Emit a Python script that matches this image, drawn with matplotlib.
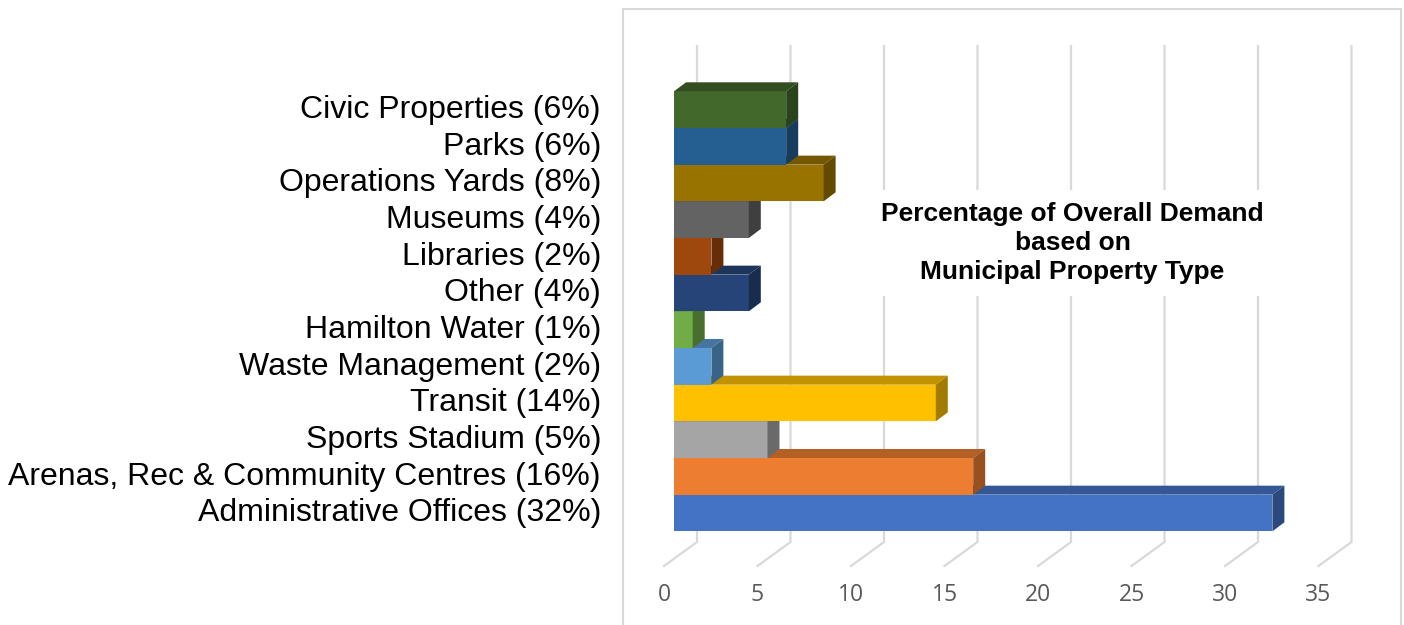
import matplotlib
matplotlib.use("Agg")
import matplotlib.pyplot as plt
from matplotlib.patches import Polygon, Rectangle
from matplotlib.transforms import ScaledTranslation
import matplotlib.colors as mcolors

# ---------------- data ----------------
categories = [
    "Administrative Offices (32%)",
    "Arenas, Rec & Community Centres (16%)",
    "Sports Stadium (5%)",
    "Transit (14%)",
    "Waste Management (2%)",
    "Hamilton Water (1%)",
    "Other (4%)",
    "Libraries (2%)",
    "Museums (4%)",
    "Operations Yards (8%)",
    "Parks (6%)",
    "Civic Properties (6%)",
]
values = [32, 16, 5, 14, 2, 1, 4, 2, 4, 8, 6, 6]
bar_colors = ["#4472C4", "#ED7D31", "#A5A5A5", "#FFC000", "#5B9BD5", "#70AD47",
              "#264478", "#9E480E", "#636363", "#997300", "#255E91", "#43682B"]
x_ticks = [0, 5, 10, 15, 20, 25, 30, 35]
title_text = "Percentage of Overall Demand\nbased on\nMunicipal Property Type"

# ---------------- layout (pixels) ----------------
FIG_W, FIG_H, DPI = 1404, 625, 100
AX_L, AX_R, AX_T, AX_B = 623, 1401, 9, 575
X0_PX, PX_PER_VAL = 674.0, 18.7      # front plane of bars
Y0_PX, PX_PER_CAT = 513.0, 36.67     # centre of first category
BAR_DX, BAR_DY = 12, 9               # bar depth (px)
GRID_BACK_DX = 23                    # back wall offset from bar front (px)
FLOOR_FRONT_DX = -10                 # floor front edge offset (px)
GRID_TOP_PX, GRID_BOT_PX, FLOOR_FRONT_PX = 46, 542, 566
TITLE_X_PX, TITLE_Y_PX = 1072.5, 243

def vx(px):  # x offset px -> value units
    return px / PX_PER_VAL

def vx_abs(px):  # absolute x pixel -> value units
    return (px - X0_PX) / PX_PER_VAL

def vy_abs(py):  # absolute y pixel -> category units
    return (Y0_PX - py) / PX_PER_CAT

fig = plt.figure(figsize=(FIG_W / DPI, FIG_H / DPI), dpi=DPI)
ax = fig.add_axes([AX_L / FIG_W, (FIG_H - AX_B) / FIG_H,
                   (AX_R - AX_L) / FIG_W, (AX_B - AX_T) / FIG_H])
ax.set_xlim(vx_abs(AX_L), vx_abs(AX_R))
ax.set_ylim(vy_abs(AX_B), vy_abs(AX_T))
for s in ax.spines.values():
    s.set_visible(False)
ax.patch.set_alpha(0)

# chart border
fig.patches.append(Rectangle((AX_L / FIG_W, -0.05), (AX_R - AX_L) / FIG_W,
                             (FIG_H - AX_T) / FIG_H + 0.05, transform=fig.transFigure,
                             fill=False, edgecolor="#D9D9D9", lw=1.5, zorder=0))

# gridlines on back wall + floor
grid_col = "#D9D9D9"
for t in x_ticks:
    xb = t + vx(GRID_BACK_DX)
    xf = t + vx(FLOOR_FRONT_DX)
    ax.plot([xf, xb, xb], [vy_abs(FLOOR_FRONT_PX), vy_abs(GRID_BOT_PX), vy_abs(GRID_TOP_PX)],
            color=grid_col, lw=1.6, zorder=1, solid_joinstyle="miter", clip_on=False)

def shade(c, f):
    r, g, b = mcolors.to_rgb(c)
    return (r * f, g * f, b * f)

ddx, ddy = vx(BAR_DX), BAR_DY / PX_PER_CAT
idx = list(range(len(categories)))
bars = ax.barh(idx, values, height=1.0, color=bar_colors, linewidth=0)
for i, (p, v, c) in enumerate(zip(bars, values, bar_colors)):
    z = 10 + 3 * i
    p.set_zorder(z)
    top = Polygon([(0, i + 0.5), (v, i + 0.5), (v + ddx, i + 0.5 + ddy), (ddx, i + 0.5 + ddy)],
                  closed=True, facecolor=shade(c, 0.76), edgecolor="none", zorder=z + 1)
    side = Polygon([(v, i - 0.5), (v + ddx, i - 0.5 + ddy), (v + ddx, i + 0.5 + ddy), (v, i + 0.5)],
                   closed=True, facecolor=shade(c, 0.64), edgecolor="none", zorder=z + 2)
    ax.add_patch(top)
    ax.add_patch(side)

# category labels
ax.set_yticks(idx)
ax.set_yticklabels(categories, fontsize=23, family="Liberation Sans", color="black")
ax.tick_params(axis="y", length=0, pad=(AX_L - 601) * 72 / DPI)
yoff = ScaledTranslation(0, 3 / DPI, fig.dpi_scale_trans)
for lab in ax.get_yticklabels():
    lab.set_transform(lab.get_transform() + yoff)

# value labels (aligned with floor front edge)
ax.set_xticks(x_ticks)
ax.set_xticklabels([str(t) for t in x_ticks], fontsize=16.5, family="Open Sans", color="#595959")
ax.tick_params(axis="x", length=0, pad=6)
off = ScaledTranslation(FLOOR_FRONT_DX / DPI, 0, fig.dpi_scale_trans)
for lab in ax.get_xticklabels():
    lab.set_transform(lab.get_transform() + off)

# chart title inside plot
ax.text(vx_abs(TITLE_X_PX), vy_abs(TITLE_Y_PX), title_text,
        ha="center", va="center", fontsize=19, fontweight="bold", family="Liberation Sans",
        linespacing=1.27, zorder=50,
        bbox=dict(boxstyle="square,pad=0.45", facecolor="white", edgecolor="none"))

fig.savefig("out.png", dpi=DPI)
